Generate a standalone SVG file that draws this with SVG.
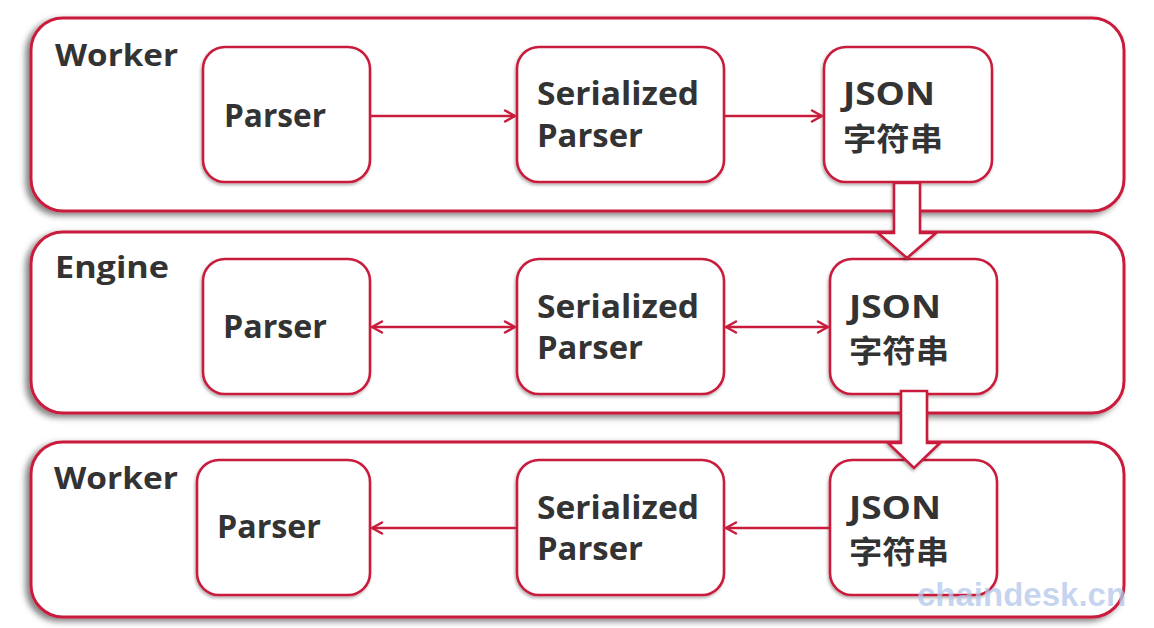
<svg xmlns="http://www.w3.org/2000/svg" width="1154" height="628" viewBox="0 0 1154 628">
<defs>
<filter id="pshadow" x="-5%" y="-10%" width="110%" height="125%">
<feDropShadow dx="-4" dy="3" stdDeviation="3" flood-color="#000" flood-opacity="0.5"/>
</filter>
<filter id="nshadow" x="-10%" y="-10%" width="120%" height="125%">
<feDropShadow dx="-1" dy="2" stdDeviation="1.5" flood-color="#000" flood-opacity="0.3"/>
</filter>
<marker id="ah" viewBox="0 0 14 14" refX="12" refY="7" markerWidth="14" markerHeight="14" markerUnits="userSpaceOnUse" orient="auto-start-reverse">
<path d="M2,1.5 L12,7 L2,12.5" fill="none" stroke="#c91c3c" stroke-width="2.5" stroke-linecap="round" stroke-linejoin="round"/>
</marker>
</defs>
<style>
.panel{fill:#fff;stroke:#c91c3c;stroke-width:3;filter:url(#pshadow)}
.node{fill:#fff;stroke:#c91c3c;stroke-width:2.6;filter:url(#nshadow)}
.t{font-family:"Open Sans","Noto Sans CJK SC",sans-serif;font-weight:700;fill:#333;font-size:33px}
.js{font-family:"Open Sans",sans-serif;font-weight:700;fill:#333;font-size:32px}
.cj{font-family:"Noto Sans CJK SC",sans-serif;font-weight:700;fill:#333;font-size:31px}
.lbl{font-family:"Open Sans","Noto Sans CJK SC",sans-serif;font-weight:700;fill:#333;font-size:31px}
.c{fill:none;stroke:#c91c3c;stroke-width:2.6}
.blk{fill:#fff;stroke:#c91c3c;stroke-width:2.6;stroke-linejoin:miter;filter:url(#nshadow)}
.wm{font-family:"Liberation Sans",Arial,sans-serif;font-weight:700;font-size:33px;fill:#b3c7ea;fill-opacity:0.75}
</style>
<rect width="1154" height="628" fill="#fff"/>

<g id="panel-worker-top">
<rect class="panel" x="31" y="18" width="1093" height="193" rx="32"/>
<text class="lbl" x="55" y="66" textLength="123" lengthAdjust="spacingAndGlyphs">Worker</text>
</g>
<g id="panel-engine">
<rect class="panel" x="31" y="232" width="1093" height="181" rx="32"/>
<text class="lbl" x="55" y="278" textLength="114" lengthAdjust="spacingAndGlyphs">Engine</text>
</g>
<g id="panel-worker-bottom">
<rect class="panel" x="31" y="442" width="1093" height="175" rx="32"/>
<text class="lbl" x="54" y="489" textLength="124" lengthAdjust="spacingAndGlyphs">Worker</text>
</g>

<g id="w1-parser">
<rect class="node" x="203" y="47" width="167" height="135" rx="22"/>
<text class="t" x="224" y="127" textLength="102" lengthAdjust="spacingAndGlyphs">Parser</text>
</g>
<g id="w1-serialized">
<rect class="node" x="517" y="47" width="207" height="135" rx="22"/>
<text class="t" x="537" y="105" textLength="162" lengthAdjust="spacingAndGlyphs">Serialized</text>
<text class="t" x="537" y="147" textLength="106" lengthAdjust="spacingAndGlyphs">Parser</text>
</g>
<g id="w1-json">
<rect class="node" x="824" y="47" width="168" height="135" rx="22"/>
<text class="js" x="843" y="105" textLength="92" lengthAdjust="spacingAndGlyphs">JSON</text>
<text class="cj" x="843" y="150" textLength="100" lengthAdjust="spacingAndGlyphs">字符串</text>
</g>

<g id="e-parser">
<rect class="node" x="203" y="259" width="167" height="135" rx="22"/>
<text class="t" x="223" y="338" textLength="104" lengthAdjust="spacingAndGlyphs">Parser</text>
</g>
<g id="e-serialized">
<rect class="node" x="517" y="259" width="207" height="135" rx="22"/>
<text class="t" x="537" y="318" textLength="162" lengthAdjust="spacingAndGlyphs">Serialized</text>
<text class="t" x="537" y="359" textLength="106" lengthAdjust="spacingAndGlyphs">Parser</text>
</g>
<g id="e-json">
<rect class="node" x="830" y="259" width="167" height="135" rx="22"/>
<text class="js" x="849" y="318" textLength="92" lengthAdjust="spacingAndGlyphs">JSON</text>
<text class="cj" x="849" y="362" textLength="100" lengthAdjust="spacingAndGlyphs">字符串</text>
</g>

<g id="w2-parser">
<rect class="node" x="197" y="460" width="173" height="135" rx="22"/>
<text class="t" x="217" y="538" textLength="104" lengthAdjust="spacingAndGlyphs">Parser</text>
</g>
<g id="w2-serialized">
<rect class="node" x="517" y="460" width="207" height="135" rx="22"/>
<text class="t" x="537" y="519" textLength="162" lengthAdjust="spacingAndGlyphs">Serialized</text>
<text class="t" x="537" y="560" textLength="106" lengthAdjust="spacingAndGlyphs">Parser</text>
</g>
<g id="w2-json">
<rect class="node" x="830" y="460" width="167" height="135" rx="22"/>
<text class="js" x="849" y="519" textLength="92" lengthAdjust="spacingAndGlyphs">JSON</text>
<text class="cj" x="849" y="563" textLength="100" lengthAdjust="spacingAndGlyphs">字符串</text>
</g>

<g id="connectors">
<line class="c" x1="371" y1="116" x2="515" y2="116" marker-end="url(#ah)"/>
<line class="c" x1="725" y1="116" x2="822" y2="116" marker-end="url(#ah)"/>
<line class="c" x1="372" y1="327" x2="515" y2="327" marker-start="url(#ah)" marker-end="url(#ah)"/>
<line class="c" x1="726" y1="327" x2="828" y2="327" marker-start="url(#ah)" marker-end="url(#ah)"/>
<line class="c" x1="829" y1="528" x2="726" y2="528" marker-end="url(#ah)"/>
<line class="c" x1="516" y1="528" x2="372" y2="528" marker-end="url(#ah)"/>
<path class="blk" d="M894,183 L920,183 L920,233 L936,233 L907,258 L878,233 L894,233 Z"/>
<path class="blk" d="M901,391 L927,391 L927,443 L940,443 L914,468 L888,443 L901,443 Z"/>
</g>

<text class="wm" x="917" y="606">chaindesk.cn</text>
</svg>
